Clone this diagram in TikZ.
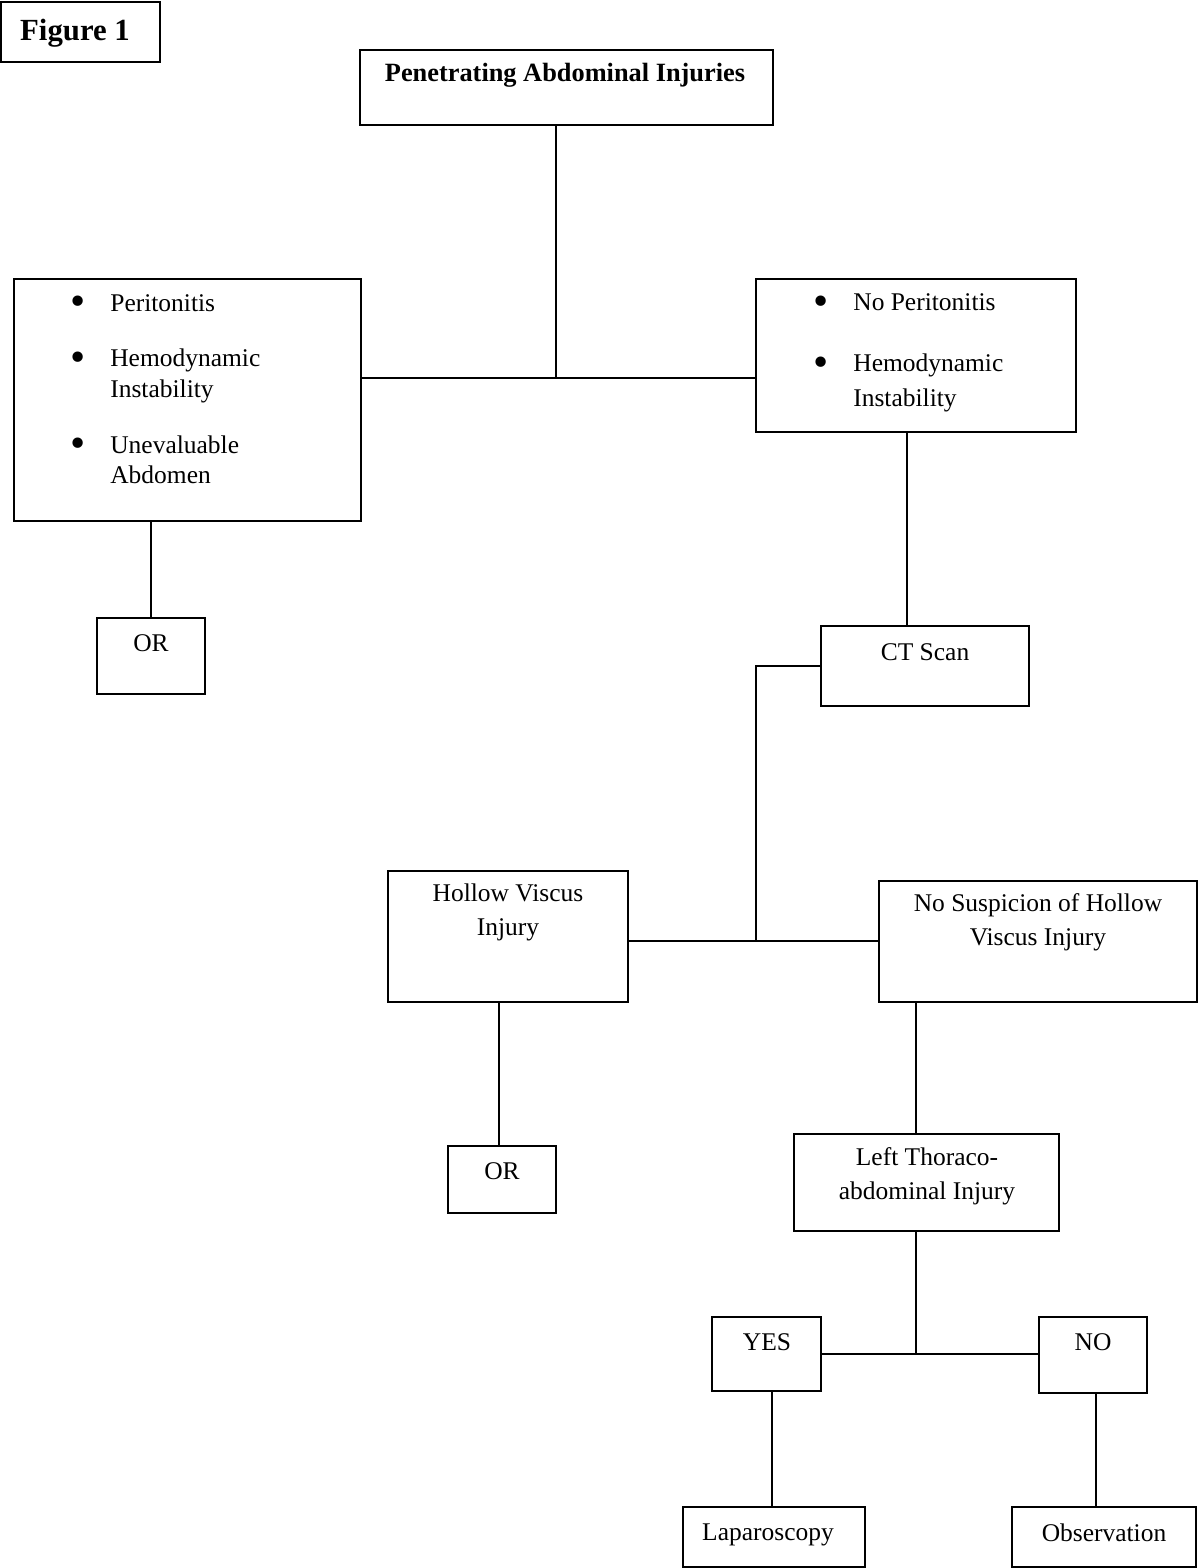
\documentclass[tikz,border=0pt]{standalone}
\usepackage{fontspec}
\setmainfont{Liberation Serif}
\newcommand{\bul}{\makebox[0.79cm][l]{\raisebox{-2.6pt}{\scalebox{1.7}{\textbullet}}}}

\begin{document}
\begin{tikzpicture}[x=0.02cm, y=-0.02cm,
    box/.style={draw, line width=0.9pt, inner sep=0pt},
    txt/.style={inner sep=0pt, anchor=base, font=\fontsize{14.5}{19.9}\selectfont},
    item/.style={inner sep=0pt, anchor=base west, font=\fontsize{14.5}{17.6}\selectfont},
    link/.style={line width=0.8pt}]
\useasboundingbox (0,0) rectangle (1200,1568);

% Boxes
\node[box, minimum width=3.18cm, minimum height=1.2cm] (fig) at (80.5,32) {};
\node[box, minimum width=8.26cm, minimum height=1.5cm] (pen) at (566.5,87.5) {};
\node[box, minimum width=6.94cm, minimum height=4.84cm] (left) at (187.5,400) {};
\node[box, minimum width=6.4cm, minimum height=3.06cm] (right) at (916,355.5) {};
\node[box, minimum width=2.16cm, minimum height=1.52cm] (or1) at (151,656) {};
\node[box, minimum width=4.16cm, minimum height=1.6cm] (ct) at (925,666) {};
\node[box, minimum width=4.8cm, minimum height=2.62cm] (hollow) at (508,936.5) {};
\node[box, minimum width=6.36cm, minimum height=2.42cm] (nosusp) at (1038,941.5) {};
\node[box, minimum width=2.16cm, minimum height=1.34cm] (or2) at (502,1179.5) {};
\node[box, minimum width=5.3cm, minimum height=1.94cm] (thor) at (926.5,1182.5) {};
\node[box, minimum width=2.18cm, minimum height=1.48cm] (yes) at (766.5,1354) {};
\node[box, minimum width=2.16cm, minimum height=1.52cm] (no) at (1093,1355) {};
\node[box, minimum width=3.64cm, minimum height=1.2cm] (lap) at (774,1537) {};
\node[box, minimum width=3.68cm, minimum height=1.2cm] (obs) at (1104,1537) {};

% Labels
\node[txt, font=\fontsize{17.5}{20}\selectfont\bfseries] (figT) at (75,41) {Figure 1};
\node[txt, font=\fontsize{15}{18}\selectfont\bfseries] (penT) at (565,82) {Penetrating Abdominal Injuries};
\foreach \y/\t [count=\i] in {311/{Peritonitis}, 366.5/{Hemodynamic\\Instability}, 453/{Unevaluable\\Abdomen}}
    \node[item] (leftT\i) at (70.5,\y) {\bul\begin{tabular}[t]{@{}l@{}}\t\end{tabular}};
\foreach \y/\t [count=\i] in {310.7/{No Peritonitis}, 371.7/{Hemodynamic\\Instability}}
    \node[item, font=\fontsize{14.5}{19.9}\selectfont] (rightT\i) at (813.5,\y) {\bul\begin{tabular}[t]{@{}l@{}}\t\end{tabular}};
\node[txt] (or1T) at (151,651) {OR};
\node[txt] (ctT) at (925,660) {CT Scan};
\node[txt] (hollowT) at (508,901) {\begin{tabular}[t]{@{}c@{}}Hollow Viscus\\Injury\end{tabular}};
\node[txt] (nosuspT) at (1038,911) {\begin{tabular}[t]{@{}c@{}}No Suspicion of Hollow\\Viscus Injury\end{tabular}};
\node[txt] (or2T) at (502,1179) {OR};
\node[txt] (thorT) at (927,1165) {\begin{tabular}[t]{@{}c@{}}Left Thoraco-\\abdominal Injury\end{tabular}};
\node[txt] (yesT) at (767,1350) {YES};
\node[txt] (noT) at (1093,1350) {NO};
\node[txt] (lapT) at (768,1540) {Laparoscopy};
\node[txt] (obsT) at (1104,1541) {Observation};

% Junctions
\coordinate (j1) at (556,378);
\coordinate (x1) at (907,0);
\coordinate (j3) at (756,941);
\coordinate (x2) at (499,0);
\coordinate (j4) at (916,1354);
\coordinate (x3) at (772,0);
\coordinate (x4) at (1096,0);

% Connectors
\draw[link] (pen.south -| j1) -- (j1);
\draw[link] (left.east |- j1) -- (right.west |- j1);
\draw[link] (or1.north) -- (or1.north |- left.south);
\draw[link] (right.south -| x1) -- (ct.north -| x1);
\draw[link] (ct.west) -| (j3);
\draw[link] (hollow.east |- j3) -- (nosusp.west |- j3);
\draw[link] (hollow.south -| x2) -- (or2.north -| x2);
\draw[link] (nosusp.south -| j4) -- (thor.north -| j4);
\draw[link] (thor.south -| j4) -- (j4);
\draw[link] (yes.east |- j4) -- (no.west |- j4);
\draw[link] (yes.south -| x3) -- (lap.north -| x3);
\draw[link] (no.south -| x4) -- (obs.north -| x4);
\end{tikzpicture}
\end{document}
